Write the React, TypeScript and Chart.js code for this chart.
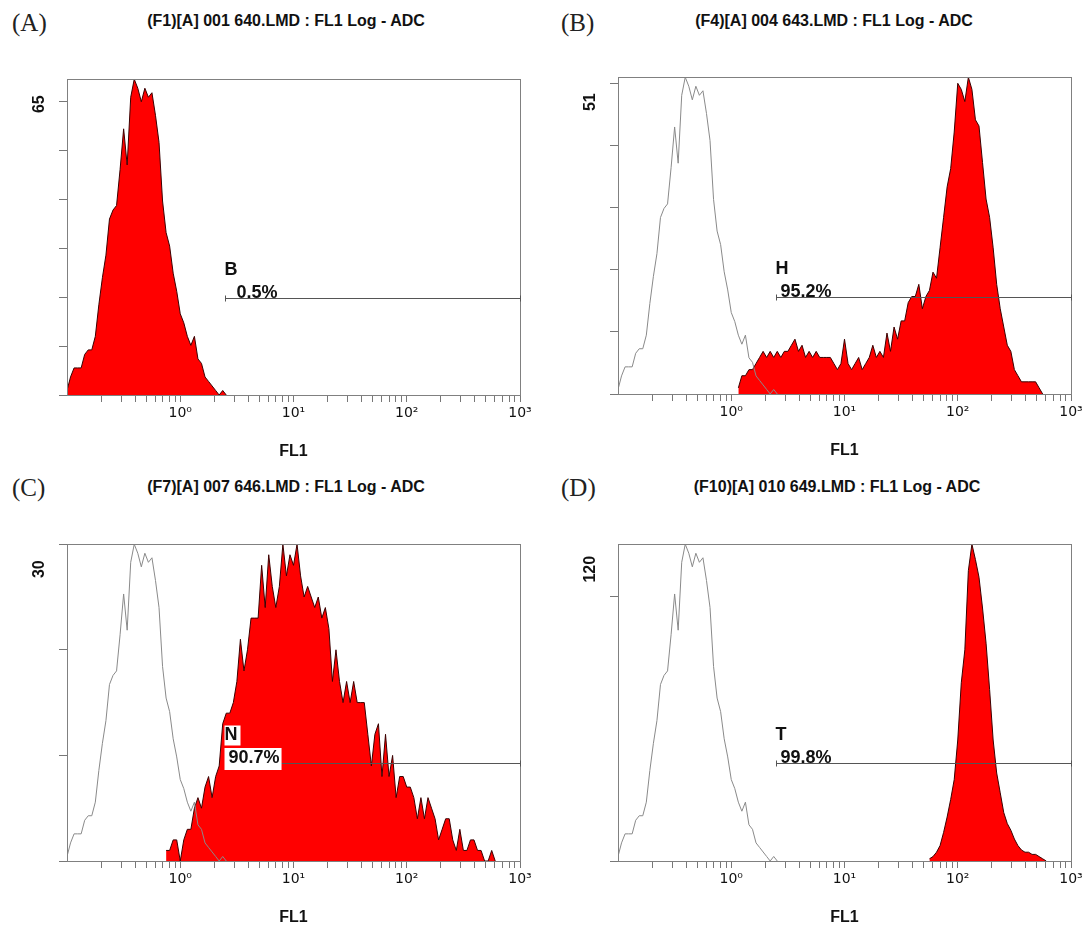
import React, { useEffect, useRef } from 'react';
import { Chart, registerables } from 'chart.js';

Chart.register(...registerables);

const FONT = "'Liberation Sans', Arial, Helvetica, sans-serif";
const TICK_FONT = "'DejaVu Sans', 'Liberation Sans', Arial, sans-serif";
const SERIF = "'Liberation Serif', 'Times New Roman', serif";

// ---------- axis definitions ----------
const CHANNELS_PER_DECADE = 32;
const X_MIN = 0.1;
const X_MAX = 1000;
const DECADE_VALUES = [1, 10, 100, 1000];
const DECADE_LABELS = ['10⁰', '10¹', '10²', '10³'];
const TICK_DECADES = [0.1, 1, 10, 100];
const TICK_MULTIPLIERS = [2, 3, 4, 5, 6, 7, 8, 9, 10];

// ---------- panel text ----------
const PANEL_LETTERS = ['(A)', '(B)', '(C)', '(D)'];
const PANEL_TITLES = [
  '(F1)[A] 001 640.LMD : FL1 Log - ADC',
  '(F4)[A] 004 643.LMD : FL1 Log - ADC',
  '(F7)[A] 007 646.LMD : FL1 Log - ADC',
  '(F10)[A] 010 649.LMD : FL1 Log - ADC',
];
const X_TITLE = 'FL1';
const Y_MAX_LABELS = ['65', '51', '30', '120'];

// ---------- y axes ----------
const Y_MAX = [70, 52, 30, 144];
const Y_TICKS_A = [0, 10.8, 21.7, 32.5, 43.3, 54.2, 65];
const Y_TICKS_B = [0, 10.2, 20.4, 30.6, 40.8, 51];
const Y_TICKS_C = [0, 10, 20, 30];
const Y_TICKS_D = [0, 120];
const Y_TICKS = [Y_TICKS_A, Y_TICKS_B, Y_TICKS_C, Y_TICKS_D];
const CONTROL_MAX = 70;

// ---------- gates ----------
const GATE_NAMES = ['B', 'H', 'N', 'T'];
const GATE_PERCENTS = ['0.5%', '95.2%', '90.7%', '99.8%'];
const GATE_STARTS = [2.5, 2.5, 2.5, 2.5];
const GATE_LEVELS = [21.6, 16, 9.3, 44.7];

// ---------- histograms (counts per channel, 32 channels / decade from 0.1) ----------
const CONTROL_START = 0;
const CONTROL_COUNTS = [
  1, 4, 6, 6, 6, 9, 10, 10, 13, 20,
  26, 31, 39, 41, 42, 50, 59, 51, 66, 70,
  68, 65, 68, 66, 67, 62, 56, 43, 36, 33,
  27, 23, 18, 16, 13, 11, 13, 8, 7, 4,
  3, 2, 1, 0, 1, 0,
];

const B_START = 34;
const B_COUNTS = [
  1, 3, 3, 4, 4, 5, 6, 7, 6, 7,
  6, 7, 6, 7, 7, 8, 9, 7, 8, 6,
  7, 6, 7, 6, 6, 6, 6, 5, 4, 5,
  9, 5, 4, 5, 6, 4, 5, 6, 8, 6,
  7, 6, 10, 7, 11, 9, 12, 12, 15, 16,
  16, 18, 14, 16, 17, 20, 19, 24, 29, 34,
  37, 43, 51, 50, 48, 52, 50, 45, 44, 38,
  32, 29, 24, 18, 14, 11, 8, 7, 4, 3,
  2, 2, 2, 2, 2, 1, 0,
];

const C_START = 28;
const C_COUNTS = [
  1, 1, 2, 2, 0, 2, 3, 3, 5, 6,
  5, 7, 8, 6, 8, 9, 13, 14, 14, 15,
  17, 21, 18, 20, 23, 23, 23, 28, 24, 29,
  26, 24, 26, 30, 27, 29, 28, 30, 27, 25,
  26, 25, 24, 25, 23, 24, 22, 17, 20, 17,
  15, 17, 15, 17, 15, 15, 15, 12, 9, 12,
  13, 8, 12, 8, 10, 6, 8, 8, 7, 7,
  6, 4, 6, 4, 6, 5, 4, 2, 3, 4,
  4, 2, 1, 3, 1, 1, 2, 2, 1, 1,
  0, 0, 1, 0,
];

const D_START = 88;
const D_COUNTS = [
  1, 2, 4, 7, 13, 20, 28, 37, 55, 81,
  96, 132, 144, 137, 129, 115, 99, 78, 55, 40,
  31, 22, 17, 14, 10, 7, 5, 4, 4, 3,
  3, 2, 1, 0,
];

const SAMPLE_STARTS = [CONTROL_START, B_START, C_START, D_START];
const SAMPLE_COUNTS = [CONTROL_COUNTS, B_COUNTS, C_COUNTS, D_COUNTS];
const SHOW_CONTROL = [false, true, true, true];

// ---------- layout (pixels) ----------
const PANEL_BOXES = [
  { left: 67, top: 79, width: 453, height: 316 },
  { left: 618, top: 77, width: 453, height: 317 },
  { left: 67, top: 544, width: 453, height: 317 },
  { left: 618, top: 544, width: 453, height: 317 },
];
const LETTER_POS = [
  { x: 12, y: 22 },
  { x: 561, y: 22 },
  { x: 12, y: 487 },
  { x: 561, y: 487 },
];
const TITLE_POS = [
  { x: 286, y: 21 },
  { x: 834, y: 21 },
  { x: 286, y: 487 },
  { x: 837, y: 487 },
];
const PCT_OFFSETS = [11, 4, 3, 4];
const LABEL_BACKGROUND = [false, false, true, false];
const Y_AXIS_W = 60;
const X_AXIS_H = 70;
const PAD_TOP = 10;
const PAD_RIGHT = 20;

const channelToValue = (ch: number) => X_MIN * Math.pow(10, ch / CHANNELS_PER_DECADE);
const toPoints = (start: number, counts: number[]) =>
  counts.map((c, i) => ({ x: channelToValue(start + i), y: c }));

const X_TICK_VALUES: number[] = [];
TICK_DECADES.forEach((d) => TICK_MULTIPLIERS.forEach((m) => X_TICK_VALUES.push(d * m)));

function decadeLabel(v: number) {
  for (let i = 0; i < DECADE_VALUES.length; i++) {
    if (Math.abs(v - DECADE_VALUES[i]) < 1e-6 * DECADE_VALUES[i]) return DECADE_LABELS[i];
  }
  return '';
}

function overlayPlugin(i: number) {
  return {
    id: 'overlay' + i,
    afterDatasetsDraw(chart: any) {
      const { ctx, chartArea: a, scales } = chart;
      const xs = scales.x;
      const ys = scales.y;
      ctx.save();
      // frame
      ctx.strokeStyle = '#808080';
      ctx.lineWidth = 1;
      ctx.strokeRect(
        Math.round(a.left) + 0.5,
        Math.round(a.top) + 0.5,
        Math.round(a.right - a.left),
        Math.round(a.bottom - a.top)
      );
      // gate
      const x0 = Math.round(xs.getPixelForValue(GATE_STARTS[i])) + 0.5;
      const x1 = Math.round(a.right) + 0.5;
      const gy = Math.round(ys.getPixelForValue(GATE_LEVELS[i])) + 0.5;
      ctx.strokeStyle = '#555555';
      ctx.beginPath();
      ctx.moveTo(x0, gy);
      ctx.lineTo(x1, gy);
      ctx.moveTo(x0, gy - 3);
      ctx.lineTo(x0, gy + 3);
      ctx.moveTo(x1, gy - 3);
      ctx.lineTo(x1, gy + 3);
      ctx.stroke();
      // gate labels
      ctx.font = `bold 18px ${FONT}`;
      ctx.textAlign = 'left';
      ctx.textBaseline = 'middle';
      const nameY = gy - 28;
      const pctY = gy - 5.5;
      const pctX = x0 + PCT_OFFSETS[i];
      if (LABEL_BACKGROUND[i]) {
        ctx.fillStyle = '#ffffff';
        const wN = ctx.measureText(GATE_NAMES[i]).width;
        ctx.fillRect(x0 - 1, nameY - 10, wN + 3, 20);
        const wP = ctx.measureText(GATE_PERCENTS[i]).width;
        ctx.fillRect(x0 - 1, pctY - 10, pctX - x0 + wP + 3, 22);
      }
      ctx.fillStyle = '#111111';
      ctx.fillText(GATE_NAMES[i], x0 - 1, nameY);
      ctx.fillText(GATE_PERCENTS[i], pctX, pctY);
      // rotated y max label
      ctx.translate(a.left - 27, a.top + 25);
      ctx.rotate(-Math.PI / 2);
      ctx.textAlign = 'center';
      ctx.font = `bold 16px ${FONT}`;
      ctx.fillText(Y_MAX_LABELS[i], 0, 0);
      ctx.restore();
    },
  };
}

function buildConfig(i: number): any {
  const datasets: any[] = [];
  if (SHOW_CONTROL[i]) {
    datasets.push({
      data: toPoints(CONTROL_START, CONTROL_COUNTS),
      yAxisID: 'yc',
      borderColor: '#8a8a8a',
      borderWidth: 1,
      fill: false,
      pointRadius: 0,
      tension: 0,
      borderJoinStyle: 'bevel',
      order: 0,
    });
  }
  datasets.push({
    data: toPoints(SAMPLE_STARTS[i], SAMPLE_COUNTS[i]),
    yAxisID: 'y',
    borderColor: '#3a0000',
    borderWidth: 1,
    backgroundColor: '#ff0000',
    fill: 'origin',
    pointRadius: 0,
    tension: 0,
    borderJoinStyle: 'bevel',
    order: 1,
  });
  return {
    type: 'line',
    data: { datasets },
    options: {
      animation: false,
      responsive: false,
      maintainAspectRatio: false,
      events: [],
      layout: { padding: { top: PAD_TOP, right: PAD_RIGHT, left: 0, bottom: 0 } },
      plugins: {
        legend: { display: false },
        tooltip: { enabled: false },
        title: { display: false },
      },
      scales: {
        x: {
          type: 'logarithmic',
          position: 'bottom',
          min: X_MIN,
          max: X_MAX,
          afterBuildTicks: (s: any) => {
            s.ticks = X_TICK_VALUES.map((v) => ({ value: v }));
          },
          afterFit: (s: any) => {
            s.height = X_AXIS_H;
          },
          ticks: {
            autoSkip: false,
            maxRotation: 0,
            minRotation: 0,
            padding: 3,
            color: '#111111',
            font: { family: TICK_FONT, size: 14 },
            callback: (v: any) => decadeLabel(Number(v)),
          },
          grid: {
            display: true,
            drawOnChartArea: false,
            drawTicks: true,
            tickLength: 7,
            color: '#777777',
            lineWidth: 1,
          },
          border: { display: false },
          title: {
            display: true,
            text: X_TITLE,
            color: '#111111',
            font: { family: FONT, size: 16, weight: 'bold' },
            padding: { top: 0, bottom: 4 },
          },
        },
        y: {
          type: 'linear',
          min: 0,
          max: Y_MAX[i],
          afterBuildTicks: (s: any) => {
            s.ticks = Y_TICKS[i].map((v) => ({ value: v }));
          },
          afterFit: (s: any) => {
            s.width = Y_AXIS_W;
          },
          ticks: { autoSkip: false, callback: () => '' },
          grid: {
            display: true,
            drawOnChartArea: false,
            drawTicks: true,
            tickLength: 8,
            color: '#777777',
            lineWidth: 1,
          },
          border: { display: false },
        },
        yc: { type: 'linear', display: false, min: 0, max: CONTROL_MAX },
      },
    },
    plugins: [overlayPlugin(i)],
  };
}

function Panel({ index }: { index: number }) {
  const ref = useRef<HTMLCanvasElement>(null);
  useEffect(() => {
    if (!ref.current) return;
    const chart = new Chart(ref.current, buildConfig(index));
    return () => chart.destroy();
  }, [index]);
  const box = PANEL_BOXES[index];
  const w = box.width + Y_AXIS_W + PAD_RIGHT;
  const h = box.height + PAD_TOP + X_AXIS_H;
  return (
    <canvas
      ref={ref}
      width={w}
      height={h}
      style={{
        position: 'absolute',
        left: box.left - Y_AXIS_W,
        top: box.top - PAD_TOP,
        width: w,
        height: h,
      }}
    />
  );
}

export default function App() {
  return (
    <div
      style={{
        position: 'absolute',
        left: 0,
        top: 0,
        width: 1091,
        height: 929,
        overflow: 'hidden',
        background: '#ffffff',
      }}
    >
      {PANEL_LETTERS.map((t, i) => (
        <div
          key={'l' + i}
          style={{
            position: 'absolute',
            left: LETTER_POS[i].x,
            top: LETTER_POS[i].y,
            transform: 'translateY(-50%)',
            fontFamily: SERIF,
            fontSize: 25,
            lineHeight: '25px',
            color: '#222',
            whiteSpace: 'nowrap',
          }}
        >
          {t}
        </div>
      ))}
      {PANEL_TITLES.map((t, i) => (
        <div
          key={'t' + i}
          style={{
            position: 'absolute',
            left: TITLE_POS[i].x,
            top: TITLE_POS[i].y,
            transform: 'translate(-50%, -50%)',
            fontFamily: FONT,
            fontWeight: 'bold',
            fontSize: 16,
            lineHeight: '16px',
            color: '#111',
            whiteSpace: 'nowrap',
          }}
        >
          {t}
        </div>
      ))}
      {[0, 1, 2, 3].map((i) => (
        <Panel key={i} index={i} />
      ))}
    </div>
  );
}
